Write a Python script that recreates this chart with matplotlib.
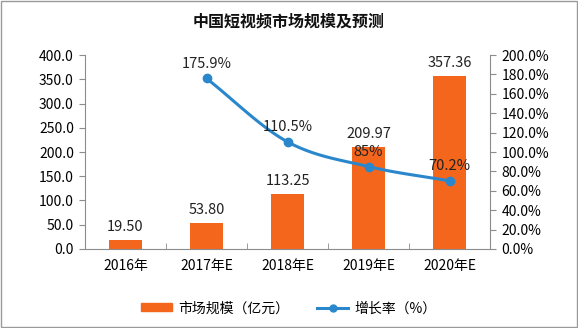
import numpy as np
import matplotlib
matplotlib.use("Agg")
import matplotlib.pyplot as plt
from matplotlib.lines import Line2D
from matplotlib.patches import Patch

plt.rcParams['font.family'] = ['Noto Sans CJK SC', 'DejaVu Sans']

categories = ["2016年", "2017年E", "2018年E", "2019年E", "2020年E"]
market_size = [19.50, 53.80, 113.25, 209.97, 357.36]
growth_labels = ["175.9%", "110.5%", "85%", "70.2%"]
growth = [175.9, 110.5, 85.0, 70.2]

BAR_COLOR = "#F4661B"
LINE_COLOR = "#2B87CC"
AXIS_COLOR = "#8C8C8C"

fig = plt.figure(figsize=(5.78, 3.28), dpi=100)
ax = fig.add_axes([0.147, 0.241, 0.701, 0.591])
ax2 = ax.twinx()

x = np.arange(len(categories))
ax.bar(x, market_size, width=0.41, color=BAR_COLOR, zorder=2)
ax.set_xlim(-0.5, len(categories) - 0.5)
ax.set_ylim(0, 400)
ax.set_yticks(np.arange(0, 401, 50))
ax.set_yticklabels([f"{v:.1f}" for v in np.arange(0, 401, 50)], fontsize=10)
ax.set_xticks(x)
ax.set_xticklabels(categories, fontsize=10)
ax.set_xticks(np.arange(-0.5, len(categories), 1), minor=True)
ax.tick_params(axis='x', which='major', length=0, pad=7)
ax.tick_params(axis='x', which='minor', length=4, color=AXIS_COLOR, direction='in')
ax.tick_params(axis='y', length=4, color=AXIS_COLOR, direction='out', pad=4)

for xi, v in zip(x, market_size):
    ax.text(xi, v + 12, f"{v:.2f}", ha='center', va='bottom', fontsize=10.5, color="#222222")

# smooth growth-rate curve (Catmull-Rom through the data points)
gx = x[1:].astype(float)
gy = np.array(growth)
px = np.concatenate([[2 * gx[0] - gx[1]], gx, [2 * gx[-1] - gx[-2]]])
py = np.concatenate([[2 * gy[0] - gy[1]], gy, [2 * gy[-1] - gy[-2]]])
sx, sy = [], []
for i in range(1, len(px) - 2):
    t = np.linspace(0, 1, 30)
    for arr, out in ((px, sx), (py, sy)):
        p0, p1, p2, p3 = arr[i - 1], arr[i], arr[i + 1], arr[i + 2]
        out.extend(0.5 * ((2 * p1) + (-p0 + p2) * t + (2 * p0 - 5 * p1 + 4 * p2 - p3) * t ** 2
                          + (-p0 + 3 * p1 - 3 * p2 + p3) * t ** 3))
ax2.plot(sx, sy, color=LINE_COLOR, lw=2.2, zorder=3)
ax2.plot(gx, gy, 'o', color=LINE_COLOR, ms=6, zorder=4)
for xi, v, lab in zip(gx, gy, growth_labels):
    ax2.text(xi, v + 8, lab, ha='center', va='bottom', fontsize=10.5, color="#222222")

ax2.set_ylim(0, 200)
ax2.set_yticks(np.arange(0, 201, 20))
ax2.set_yticklabels([f"{v:.1f}%" for v in np.arange(0, 201, 20)], fontsize=10)
ax2.tick_params(axis='y', length=4, color=AXIS_COLOR, direction='out', pad=4)

for a in (ax, ax2):
    a.spines['top'].set_visible(False)
    for s in a.spines.values():
        s.set_color(AXIS_COLOR)
ax.spines['right'].set_visible(False)
ax2.spines['left'].set_visible(False)
ax2.spines['bottom'].set_visible(False)

fig.text(0.5, 0.935, "中国短视频市场规模及预测", ha='center', va='center',
         fontsize=11.5, fontweight='bold', color="#111111")

handles = [Patch(color=BAR_COLOR),
           Line2D([0], [0], color=LINE_COLOR, lw=2.2, marker='o', ms=5)]
fig.legend(handles, ["市场规模（亿元）", "增长率（%）"], loc='center',
           bbox_to_anchor=(0.5, 0.06), ncol=2, frameon=False, fontsize=10,
           handlelength=2.2, handleheight=0.5, columnspacing=2.0, handletextpad=0.5)

fig.patches.append(plt.Rectangle((0.002, 0.003), 0.996, 0.994, transform=fig.transFigure,
                                 fill=False, edgecolor="#9A9A9A", lw=1))

fig.savefig("out.png", dpi=100)
